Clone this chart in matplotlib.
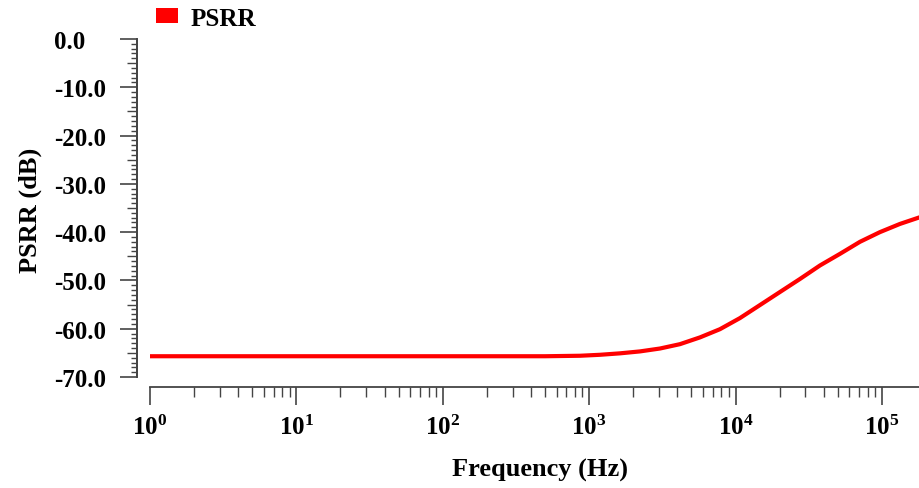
import matplotlib
matplotlib.use("Agg")
import matplotlib.pyplot as plt
from matplotlib.patches import Patch
from matplotlib.ticker import FixedLocator, LogLocator, NullFormatter, LogFormatterSciNotation

# ---- data ----
freq_hz = [1, 10, 100, 500, 865, 1186, 1624, 2224, 3047, 4170, 5712, 7822, 10715,
           14680, 20100, 27540, 37730, 51650, 70790, 96840, 132700, 181970]
psrr_db = [-65.7, -65.7, -65.7, -65.7, -65.6, -65.4, -65.1, -64.7, -64.1, -63.2, -61.8, -60.1, -57.8,
           -55.1, -52.4, -49.7, -46.9, -44.5, -42.0, -40.0, -38.3, -36.9]
y_major = [0, -10, -20, -30, -40, -50, -60, -70]
y_labels = ["0.0", "-10.0", "-20.0", "-30.0", "-40.0", "-50.0", "-60.0", "-70.0"]
series_name = "PSRR"
x_label = "Frequency (Hz)"
y_label = "PSRR (dB)"

plt.rcParams['font.family'] = ['Liberation Serif', 'DejaVu Serif']
plt.rcParams['font.weight'] = 'bold'
plt.rcParams['mathtext.fontset'] = 'custom'
plt.rcParams['mathtext.rm'] = 'Liberation Serif:bold'
plt.rcParams['mathtext.it'] = 'Liberation Serif:bold'
plt.rcParams['mathtext.bf'] = 'Liberation Serif:bold'

W, H = 920, 489
fig = plt.figure(figsize=(W / 100, H / 100), dpi=100)
ax = fig.add_axes([150 / W, 1 - 378 / H, 770 / W, (378 - 40) / H])

ax.plot(freq_hz, psrr_db, color='#ff0000', lw=3.0, solid_capstyle='butt', solid_joinstyle='round')

ax.set_xscale('log')
ax.set_xlim(1, 10 ** 5.26)
ax.set_ylim(-70, 0)

spine_col = '#444444'
for s in ['top', 'right']:
    ax.spines[s].set_visible(False)
ax.spines['left'].set_position(('outward', 13 * 0.72))
ax.spines['bottom'].set_position(('outward', 10 * 0.72))
for s in ['left', 'bottom']:
    ax.spines[s].set_color(spine_col)
    ax.spines[s].set_linewidth(1.3)

# y ticks
ax.yaxis.set_major_locator(FixedLocator(y_major))
ax.set_yticklabels(y_labels)
minor_y = [v for v in range(-70, 1) if v % 5 != 0]
ax.yaxis.set_minor_locator(FixedLocator(minor_y))
ax.tick_params(axis='y', which='major', length=12, width=1.2, color=spine_col,
               labelsize=18, pad=47.5)
ax.tick_params(axis='y', which='minor', length=4.3, width=1.0, color=spine_col)
for lab in ax.get_yticklabels():
    lab.set_horizontalalignment('left')
    lab.set_fontweight('bold')

# mid ticks at -5, -15, ...
sec = ax.secondary_yaxis('left')
sec.spines['left'].set_position(('outward', 13 * 0.72))
sec.spines['left'].set_color(spine_col)
sec.spines['left'].set_linewidth(1.3)
sec.yaxis.set_major_locator(FixedLocator([v for v in range(-65, 0, 10)]))
sec.yaxis.set_minor_locator(FixedLocator([]))
sec.tick_params(axis='y', which='major', length=7.2, width=1.0, color=spine_col, labelleft=False)

# x ticks
ax.xaxis.set_major_locator(LogLocator(base=10, numticks=20))
ax.xaxis.set_major_formatter(LogFormatterSciNotation())
ax.xaxis.set_minor_locator(LogLocator(base=10, subs=range(2, 10), numticks=20))
ax.xaxis.set_minor_formatter(NullFormatter())
ax.tick_params(axis='x', which='major', length=13, width=1.2, color=spine_col,
               labelsize=18, pad=7)
ax.tick_params(axis='x', which='minor', length=7.5, width=1.0, color=spine_col)

# axis labels
fig.text(540 / W, 1 - 470 / H, x_label, ha='center', va='center', fontsize=19, fontweight='bold')
fig.text(30 / W, 1 - 210 / H, y_label, ha='center', va='center', rotation=90, fontsize=19, fontweight='bold')

# legend
handle = Patch(facecolor='#ff0000', edgecolor='none', label=series_name)
fig.legend(handles=[handle], loc='center left', bbox_to_anchor=(156 / W, 1 - 19 / H),
           frameon=False, handlelength=0.9, handleheight=0.55,
           handletextpad=0.5, borderpad=0, borderaxespad=0,
           prop={'weight': 'bold', 'size': 18})

fig.savefig('out.png', dpi=100)
